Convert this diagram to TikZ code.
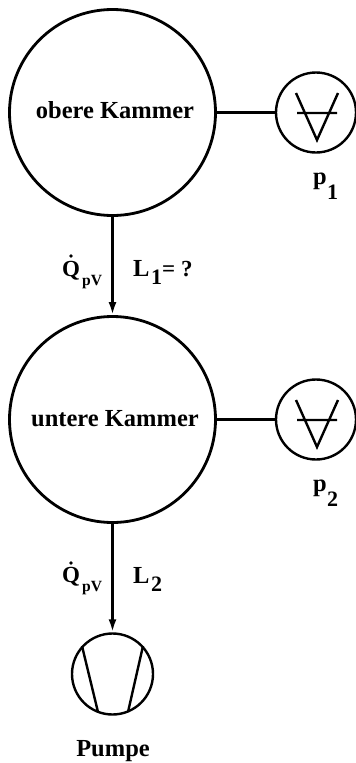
\documentclass[tikz,border=0pt]{standalone}
\usepackage{fontspec}
\setmainfont{Liberation Serif}
\usetikzlibrary{arrows.meta}
\tikzset{
  x=1pt,y=-1pt,
  heavy/.style={line width=2.8pt},
  chamber/.style={circle,draw,line width=2.8pt,minimum size=206pt,inner sep=0pt},
  chamberlabel/.style={inner sep=0pt,anchor=base,font=\fontsize{24.5}{28}\selectfont\bfseries},
  gauge/.style={circle,draw,line width=2.4pt,minimum size=80pt,inner sep=0pt},
  sym/.style={line width=2.4pt,line cap=butt,line join=miter},
  lab/.style={inner sep=0pt,anchor=base west,font=\fontsize{24.5}{28}\selectfont\bfseries},
  subs/.style={inner sep=0pt,anchor=base west,font=\fontsize{22}{26}\selectfont\bfseries},
  qsym/.style={inner sep=0pt,anchor=base west,font=\fontsize{23}{26}\selectfont\bfseries},
  qsub/.style={inner sep=0pt,anchor=base west,font=\fontsize{15.6}{18}\selectfont\bfseries},
  flow/.style={line width=2.6pt,-{Latex[length=13pt,width=8pt]}},
}
\begin{document}
\begin{tikzpicture}
\useasboundingbox (0,0) rectangle (356,763);
\node[chamber] (ok) at (112.5,112.5) {};
\node[chamber] (uk) at (112.5,419.5) {};
\node[chamberlabel] (okl) at (115,118) {obere Kammer};
\node[chamberlabel] (ukl) at (115,426) {untere Kammer};
\node[gauge] (g1) at (316,112.5) {};
\node[gauge] (g2) at (316,419.5) {};
\node[gauge,minimum size=81pt] (pu) at (112.5,674) {};
\draw[heavy] (ok) -- (g1);
\draw[heavy] (uk) -- (g2);
\draw[flow] (ok) -- (uk);
\draw[flow] (uk) -- (pu);
\draw[sym] (296,93) -- (317,140) -- (338,93) (297,113) -- (337,113);
\draw[sym] (296,400) -- (317,447) -- (338,400) (297,420) -- (337,420);
\draw[sym] (82,646) -- (98,712) (143,646) -- (128,712);
\node[lab] (p1) at (313,184) {p};
\node[subs] (p1s) at (327,199) {1};
\node[lab] (p2) at (313,491) {p};
\node[subs] (p2s) at (327,506) {2};
\node[qsym] (q1) at (62,276) {Q};
\node[qsub] (q1s) at (82,285) {pV};
\fill (71,256) circle (1.9pt);
\node[qsym] (q2) at (62,582) {Q};
\node[qsub] (q2s) at (82,591) {pV};
\fill (71,563) circle (1.9pt);
\node[lab] (l1) at (133,276) {L};
\node[subs] (l1s) at (151,284) {1};
\node[qsym] (l1e) at (162,276) {= ?};
\node[lab] (l2) at (133,583) {L};
\node[subs] (l2s) at (151,591) {2};
\node[lab,anchor=base] (pl) at (113,756) {Pumpe};
\end{tikzpicture}
\end{document}
